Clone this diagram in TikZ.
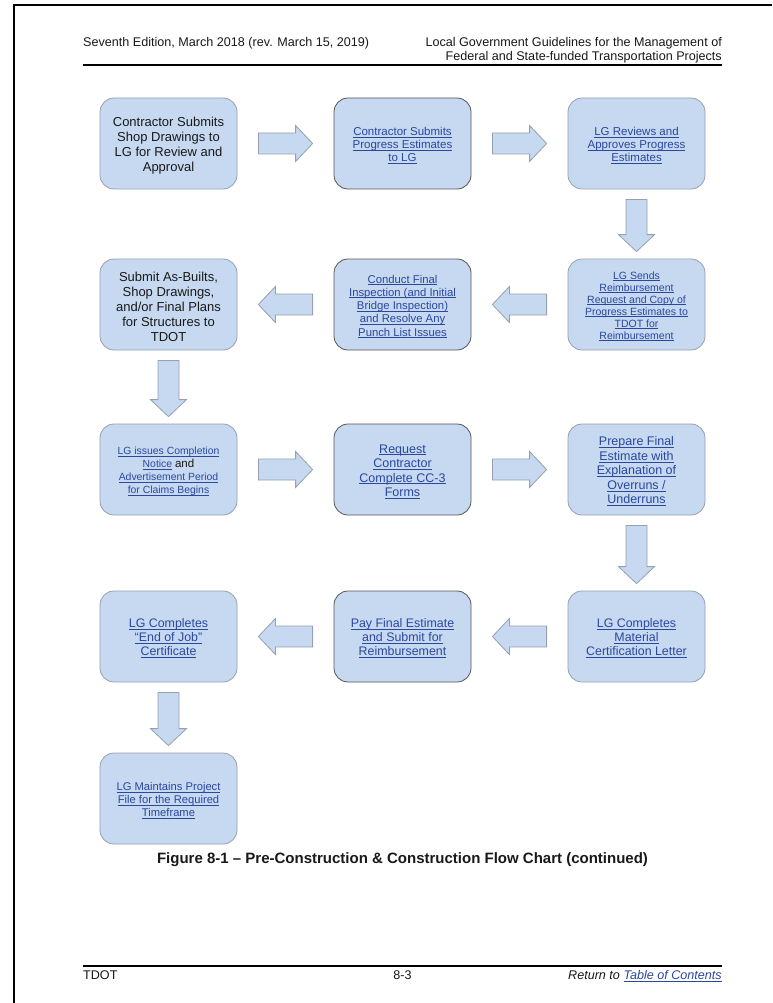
\documentclass[tikz,border=0pt]{standalone}
\usepackage{fontspec}
\setmainfont{Liberation Sans}
\usetikzlibrary{calc}
\definecolor{boxfill}{RGB}{198,217,241}
\definecolor{boxline}{RGB}{150,160,175}
\definecolor{boxlinedark}{RGB}{85,85,90}
\definecolor{linkblue}{RGB}{42,72,158}
\definecolor{txt}{RGB}{25,25,25}
\newcommand\lk[1]{\setbox0\hbox{#1}\rlap{\rule[-0.18em]{\wd0}{0.085em}}\box0\relax}
\newcommand\fs[2]{\fontsize{#1}{#2}\selectfont}
\newcommand\ts{\rule{0pt}{\dimexpr\fontcharht\font`A+4.5pt\relax}}
% block arrow: from anchor, to anchor, tail gap, tip gap
\newcommand\flow[4]{%
  \path coordinate (T) at ($(#1)!#3!(#2)$)
        coordinate (P) at ($(#2)!#4!(#1)$);
  \path coordinate (H) at ($(P)!17pt!(T)$);
  \filldraw[blockarr] ($(T)!10.5pt!90:(P)$) -- ($(H)!10.5pt!90:(P)$) -- ($(H)!18pt!90:(P)$) -- (P)
     -- ($(H)!18pt!-90:(P)$) -- ($(H)!10.5pt!-90:(P)$) -- ($(T)!10.5pt!-90:(P)$) -- cycle;}
\tikzset{
  stepbox/.style={draw=boxline, fill=boxfill, rounded corners=14pt, minimum width=137pt,
    minimum height=91pt, align=center, inner sep=2pt, line width=0.8pt, text=txt},
  midbox/.style={stepbox, draw=boxlinedark},
  linktext/.style={text=linkblue},
  blockarr/.style={draw=boxline, fill=boxfill, line width=0.8pt},
  hdr/.style={text=txt, inner sep=0pt, font=\fs{12.6}{14.5}},
}
\begin{document}
\begin{tikzpicture}[x=1pt,y=-1pt]
\useasboundingbox (0,0) rectangle (772,1003);
\fill[white] (0,0) rectangle (772,1003);
% page frame
\draw[line width=2pt] (13.5,1003) -- (13.5,5.5) -- (772,5.5);
% header
\node[hdr, anchor=base west] (hl) at (83,46.5) {Seventh Edition, March 2018 (rev. March 15, 2019)};
\node[hdr, anchor=base east] (hr1) at (722,46.5) {Local Government Guidelines for the Management of};
\node[hdr, anchor=base east] (hr2) at (722,60.5) {Federal and State-funded Transportation Projects};
\draw[line width=2.2pt] (83,65) -- (722,65);
% row 1
\node[stepbox, font=\fs{13}{15}] (a1) at (168.5,143.5) {\ts Contractor Submits\\Shop Drawings to\\LG for Review and\\Approval};
\node[midbox, linktext, font=\fs{11.5}{13}] (a2) at (402.5,143.5) {\ts\lk{Contractor Submits}\\\lk{Progress Estimates}\\\lk{to LG}};
\node[stepbox, linktext, font=\fs{11.5}{13}] (a3) at (636.5,143.5) {\ts\lk{LG Reviews and}\\\lk{Approves Progress}\\\lk{Estimates}};
% row 2
\node[stepbox, linktext, font=\fs{10.5}{12}] (b3) at (636.5,304.5) {\ts\lk{LG Sends}\\\lk{Reimbursement}\\\lk{Request and Copy of}\\\lk{Progress Estimates to}\\\lk{TDOT for}\\\lk{Reimbursement}};
\node[midbox, linktext, font=\fs{11.3}{13.3}] (b2) at (402.5,304.5) {\ts\lk{Conduct Final}\\\lk{Inspection (and Initial}\\\lk{Bridge Inspection)}\\\lk{and Resolve Any}\\\lk{Punch List Issues}};
\node[stepbox, font=\fs{13}{15}] (b1) at (168.5,304.5) {\ts Submit As-Builts,\\Shop Drawings,\\and/or Final Plans\\for Structures to\\TDOT};
% row 3
\node[stepbox, linktext, font=\fs{10.4}{13}] (c1) at (168.5,469.5) {\ts\lk{LG issues Completion}\\\lk{Notice} {\color{txt}\fs{11.5}{13}and}\\\lk{Advertisement Period}\\\lk{for Claims Begins}};
\node[midbox, linktext, font=\fs{12.5}{14.5}] (c2) at (402.5,469.5) {\ts\lk{Request}\\\lk{Contractor}\\\lk{Complete CC-3}\\\lk{Forms}};
\node[stepbox, linktext, font=\fs{12.5}{14.5}] (c3) at (636.5,469.5) {\ts\lk{Prepare Final}\\\lk{Estimate with}\\\lk{Explanation of}\\\lk{Overruns /}\\\lk{Underruns}};
% row 4
\node[stepbox, linktext, font=\fs{12.4}{14}] (d3) at (636.5,636.5) {\ts\lk{LG Completes}\\\lk{Material}\\\lk{Certification Letter}};
\node[midbox, linktext, font=\fs{12.4}{14}] (d2) at (402.5,636.5) {\ts\lk{Pay Final Estimate}\\\lk{and Submit for}\\\lk{Reimbursement}};
\node[stepbox, linktext, font=\fs{12.4}{14}] (d1) at (168.5,636.5) {\ts\lk{LG Completes}\\\lk{“End of Job”}\\\lk{Certificate}};
% row 5
\node[stepbox, linktext, font=\fs{11.2}{13}] (e1) at (168.5,798.5) {\ts\lk{LG Maintains Project}\\\lk{File for the Required}\\\lk{Timeframe}};
% arrows
\flow{a1.east}{a2.west}{21pt}{21pt}
\flow{a2.east}{a3.west}{21pt}{21pt}
\flow{a3.south}{b3.north}{10pt}{7pt}
\flow{b3.west}{b2.east}{21pt}{21pt}
\flow{b2.west}{b1.east}{21pt}{21pt}
\flow{b1.south}{c1.north}{10pt}{7pt}
\flow{c1.east}{c2.west}{21pt}{21pt}
\flow{c2.east}{c3.west}{21pt}{21pt}
\flow{c3.south}{d3.north}{10pt}{7pt}
\flow{d3.west}{d2.east}{21pt}{21pt}
\flow{d2.west}{d1.east}{21pt}{21pt}
\flow{d1.south}{e1.north}{10pt}{7pt}
% caption
\node[text=txt, font=\bfseries\fs{15}{17}, anchor=base] (cap) at (402.5,863.5) {Figure 8-1 – Pre-Construction \& Construction Flow Chart (continued)};
% footer
\draw[line width=2.2pt] (83,966) -- (722,966);
\node[hdr, anchor=base west] (fl) at (83,979.5) {TDOT};
\node[hdr, anchor=base] (fc) at (402.5,979.5) {8-3};
\node[hdr, anchor=base east, font=\itshape\fs{12.6}{14.5}] (fr) at (722,979.5) {Return to {\color{linkblue}\lk{Table of Contents}}};
\end{tikzpicture}
\end{document}
